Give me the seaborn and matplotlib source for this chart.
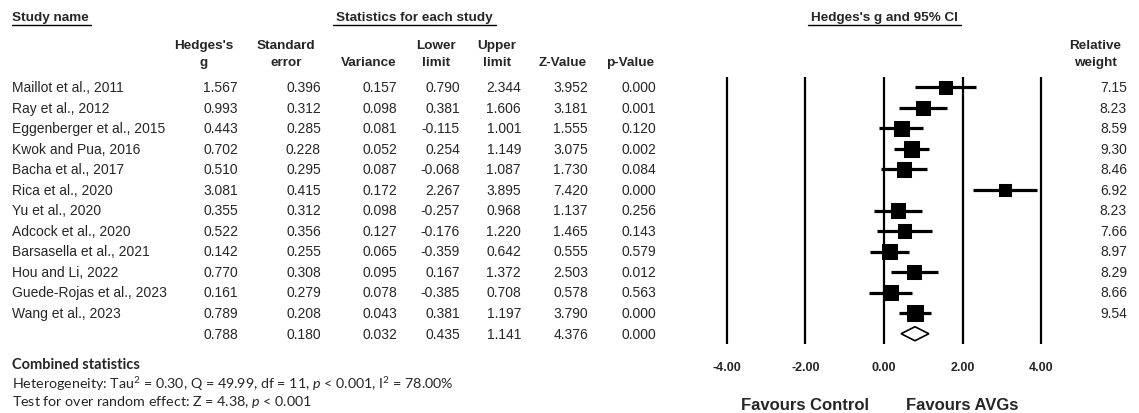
import numpy as np
import pandas as pd
import matplotlib
matplotlib.use('Agg')
import matplotlib.pyplot as plt
import seaborn as sns

studies = ['Maillot et al., 2011', 'Ray et al., 2012', 'Eggenberger et al., 2015',
           'Kwok and Pua, 2016', 'Bacha et al., 2017', 'Rica et al., 2020',
           'Yu et al., 2020', 'Adcock et al., 2020', 'Barsasella et al., 2021',
           'Hou and Li, 2022', 'Guede-Rojas et al., 2023', 'Wang et al., 2023']
g = [1.567, 0.993, 0.443, 0.702, 0.510, 3.081, 0.355, 0.522, 0.142, 0.770, 0.161, 0.789]
se = [0.396, 0.312, 0.285, 0.228, 0.295, 0.415, 0.312, 0.356, 0.255, 0.308, 0.279, 0.208]
var = [0.157, 0.098, 0.081, 0.052, 0.087, 0.172, 0.098, 0.127, 0.065, 0.095, 0.078, 0.043]
lower = [0.790, 0.381, -0.115, 0.254, -0.068, 2.267, -0.257, -0.176, -0.359, 0.167, -0.385, 0.381]
upper = [2.344, 1.606, 1.001, 1.149, 1.087, 3.895, 0.968, 1.220, 0.642, 1.372, 0.708, 1.197]
zval = [3.952, 3.181, 1.555, 3.075, 1.730, 7.420, 1.137, 1.465, 0.555, 2.503, 0.578, 3.790]
pval = [0.000, 0.001, 0.120, 0.002, 0.084, 0.000, 0.256, 0.143, 0.579, 0.012, 0.563, 0.000]
weight = [7.15, 8.23, 8.59, 9.30, 8.46, 6.92, 8.23, 7.66, 8.97, 8.29, 8.66, 9.54]
# combined (random effects)
comb = [0.788, 0.180, 0.032, 0.435, 1.141, 4.376, 0.000]
xticks = [-4, -2, 0, 2, 4]

sns.set_style('white')
plt.rcParams['font.family'] = ['Liberation Sans', 'DejaVu Sans']
plt.rcParams['mathtext.fontset'] = 'custom'
plt.rcParams['mathtext.rm'] = 'Lato'
plt.rcParams['mathtext.it'] = 'Lato:italic'

df = pd.DataFrame({'study': studies, 'g': g, 'lower': lower, 'upper': upper,
                   'weight': weight, 'row': np.arange(len(studies))})

fig = plt.figure(figsize=(11.39, 4.14), dpi=100)
bg = fig.add_axes([0, 0, 1, 1])
bg.set_xlim(0, 1139)
bg.set_ylim(414, 0)
bg.axis('off')

fs = 10
row_y = lambda i: 88 + 20.55 * i

# headers
hdr = dict(fontsize=9.7, fontweight='bold', va='center')
bg.text(12, 18, 'Study name', ha='left', **hdr)
bg.plot([12, 91], [25.5, 25.5], color='black', lw=1)
bg.text(414, 18, 'Statistics for each study', ha='center', **hdr)
bg.plot([333, 496], [25.5, 25.5], color='black', lw=1)
bg.text(884, 18, "Hedges's g and 95% CI", ha='center', **hdr)
bg.plot([808, 961], [25.5, 25.5], color='black', lw=1)

col_right = [238, 321, 397, 460, 521, 588, 656]
col_head = [("Hedges's", 'g'), ('Standard', 'error'), ('', 'Variance'),
            ('Lower', 'limit'), ('Upper', 'limit'), ('', 'Z-Value'), ('', 'p-Value')]
col_center = [204, 286, 369, 436, 497, 563, 630]
for cx, (h1, h2) in zip(col_center, col_head):
    bg.text(cx, 46, h1, ha='center', **hdr)
    bg.text(cx, 63, h2, ha='center', **hdr)
bg.text(1095, 46, 'Relative', ha='center', **hdr)
bg.text(1095, 63, 'weight', ha='center', **hdr)

cols = [g, se, var, lower, upper, zval, pval]
for i, name in enumerate(studies):
    y = row_y(i)
    bg.text(12, y, name, ha='left', va='center', fontsize=fs)
    for xr, c in zip(col_right, cols):
        bg.text(xr, y, f'{c[i]:.3f}', ha='right', va='center', fontsize=fs)
    bg.text(1127, y, f'{weight[i]:.2f}', ha='right', va='center', fontsize=fs)
for xr, v in zip(col_right, comb):
    bg.text(xr, row_y(len(studies)), f'{v:.3f}', ha='right', va='center', fontsize=fs)

# combined statistics text
bg.text(12, 365, 'Combined statistics', ha='left', va='center', fontsize=10.5,
        fontweight='bold', family='Lato')
bg.text(12, 384, r'Heterogeneity: Tau$^2$ = 0.30, Q = 49.99, df = 11, $p$ < 0.001, I$^2$ = 78.00%',
        ha='left', va='center', fontsize=10.3, family='Lato')
bg.text(12, 402, r'Test for over random effect: Z = 4.38, $p$ < 0.001',
        ha='left', va='center', fontsize=10.3, family='Lato')

# forest plot axes
px = 39.3
left_px = 884 - 4.6 * px
ax = fig.add_axes([left_px / 1139, 69 / 414, 9.2 * px / 1139, 267 / 414])
ax.set_xlim(-4.6, 4.6)
ax.set_ylim(len(studies) + 0.5, -0.5)
for t in xticks:
    ax.axvline(t, color='black', lw=1.6, zorder=1)
ax.hlines(df['row'], df['lower'], df['upper'], color='black', lw=2.3, zorder=2)
sns.scatterplot(data=df, x='g', y='row', size='weight', sizes=(85, 125), marker='s',
                color='black', edgecolor='black', legend=False, ax=ax, zorder=3)
n = len(studies)
ax.fill([comb[3], comb[0], comb[4], comb[0]], [n, n - 0.34, n, n + 0.34],
        facecolor='white', edgecolor='black', lw=1.2, zorder=3)
for s in ax.spines.values():
    s.set_visible(False)
ax.set_yticks([])
ax.set_xticks(xticks)
ax.set_xticklabels([f'{t:.2f}' for t in xticks], fontweight='bold', fontsize=9)
ax.tick_params(axis='x', length=0, pad=12)
ax.set_xlabel('')
ax.set_ylabel('')
ax.set_facecolor('none')
ax.text(-2, -0.225, 'Favours Control', transform=ax.get_xaxis_transform(),
        ha='center', va='center', fontsize=12, fontweight='bold')
ax.text(2, -0.225, 'Favours AVGs', transform=ax.get_xaxis_transform(),
        ha='center', va='center', fontsize=12, fontweight='bold')

fig.savefig('out.png', dpi=100)
